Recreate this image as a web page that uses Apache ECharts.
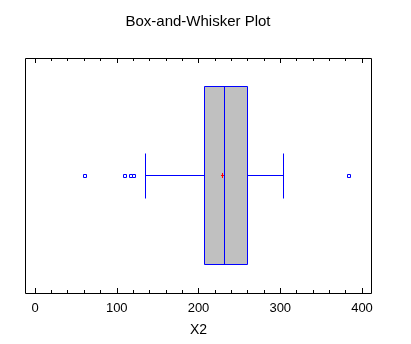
<!DOCTYPE html>
<html>
<head>
<meta charset="utf-8">
<script src="https://cdn.jsdelivr.net/npm/echarts@6/dist/echarts.min.js"></script>
<style>
  html, body { margin: 0; padding: 0; background: #ffffff; }
  #chart { width: 411px; height: 344px; }
</style>
</head>
<body>
<div id="chart"></div>
<script>
// Variable summarised by the plot
const categories = ['X2'];
// [lower whisker, Q1, median, Q3, upper whisker]
const boxStats = [[134.9, 207.3, 231.2, 259.4, 303.5]];
const means = [229.5];
// Points beyond the whiskers
const outliers = [60.8, 109.8, 117.2, 120.9, 384.1];

const BLUE = '#0000ff';
const FONT = 'Liberation Sans, Arial, sans-serif';

const chart = echarts.init(document.getElementById('chart'), null, { renderer: 'canvas' });

// snap a coordinate to the centre of a pixel so 1px strokes stay sharp
const px = v => Math.floor(v) + 0.5;

function renderBox(params, api) {
  const cat = api.value(0);
  const lo = api.coord([api.value(1), cat]);
  const q1 = api.coord([api.value(2), cat]);
  const md = api.coord([api.value(3), cat]);
  const q3 = api.coord([api.value(4), cat]);
  const hi = api.coord([api.value(5), cat]);
  const band = api.size([0, 1])[1];
  const cy = px(lo[1]);
  const boxH = Math.round(band * 0.757);
  const capH = Math.round(band * 0.191);
  const line = (x1, y1, x2, y2) => ({
    type: 'line',
    shape: { x1, y1, x2, y2 },
    style: { stroke: BLUE, lineWidth: 1 }
  });
  const xl = px(lo[0]), x1 = px(q1[0]), xm = px(md[0]), x3 = px(q3[0]), xh = px(hi[0]);
  const top = Math.floor(cy - boxH / 2) + 0.5;
  const capTop = Math.floor(cy - capH / 2) + 0.5;
  return {
    type: 'group',
    children: [
      line(xl, cy, x1, cy),
      line(x3, cy, xh, cy),
      line(xl, capTop, xl, capTop + capH),
      line(xh, capTop, xh, capTop + capH),
      {
        type: 'rect',
        shape: { x: x1, y: top, width: x3 - x1, height: boxH },
        style: { fill: '#c0c0c0', stroke: BLUE, lineWidth: 1 }
      },
      line(xm, top, xm, top + boxH)
    ]
  };
}

function renderMean(params, api) {
  const p = api.coord([api.value(1), api.value(0)]);
  const cx = px(p[0]), cy = px(p[1]);
  const st = { stroke: '#ff0000', lineWidth: 1 };
  return {
    type: 'group',
    children: [
      { type: 'line', shape: { x1: cx - 1.5, y1: cy, x2: cx + 1.5, y2: cy }, style: st },
      { type: 'line', shape: { x1: cx, y1: cy - 2.5, x2: cx, y2: cy + 2.5 }, style: st }
    ]
  };
}

// small hollow square, 4px across, kept on whole pixels
function renderOutlier(params, api) {
  const p = api.coord([api.value(0), api.value(1)]);
  const x = Math.round(p[0] - 2) + 0.5;
  const y = Math.round(p[1] - 2) + 0.5;
  return {
    type: 'rect',
    shape: { x, y, width: 3, height: 3 },
    style: { fill: '#ffffff', stroke: BLUE, lineWidth: 1 }
  };
}

const axisCommon = {
  type: 'value',
  min: 0,
  max: 400,
  interval: 100,
  axisLine: { show: false },
  axisTick: { show: true, inside: true, length: 5, lineStyle: { color: '#000', width: 1 } },
  minorTick: { show: true, splitNumber: 5, length: 3, lineStyle: { color: '#000', width: 1 } },
  splitLine: { show: false },
  minorSplitLine: { show: false }
};

chart.setOption({
  animation: false,
  backgroundColor: '#ffffff',
  title: {
    text: 'Box-and-Whisker Plot',
    left: 193,
    top: 9,
    textAlign: 'center',
    textStyle: { fontFamily: FONT, fontSize: 15, fontWeight: 'normal', color: '#000' }
  },
  grid: { left: 35, right: 49, top: 58, bottom: 51 },
  graphic: [{
    type: 'rect',
    shape: { x: 25.5, y: 58.5, width: 346, height: 235 },
    style: { fill: 'none', stroke: '#000', lineWidth: 1 },
    z: 10
  }],
  xAxis: [
    Object.assign({}, axisCommon, {
      position: 'bottom',
      name: categories[0],
      nameLocation: 'middle',
      nameGap: 30,
      nameTextStyle: { fontFamily: FONT, fontSize: 14, color: '#000' },
      axisLabel: { show: true, margin: 9, color: '#000', fontFamily: FONT, fontSize: 13 }
    }),
    Object.assign({}, axisCommon, {
      position: 'top',
      axisLabel: { show: false }
    })
  ],
  yAxis: {
    type: 'category',
    data: categories,
    axisLine: { show: false },
    axisTick: { show: false },
    axisLabel: { show: false },
    splitLine: { show: false }
  },
  series: [
    {
      type: 'custom',
      renderItem: renderBox,
      encode: { x: [1, 2, 3, 4, 5], y: 0 },
      data: boxStats.map((s, i) => [i].concat(s))
    },
    {
      type: 'custom',
      renderItem: renderMean,
      encode: { x: 1, y: 0 },
      data: means.map((m, i) => [i, m]),
      z: 5
    },
    {
      type: 'custom',
      renderItem: renderOutlier,
      encode: { x: 0, y: 1 },
      data: outliers.map(v => [v, 0]),
      z: 4
    }
  ]
});
</script>
</body>
</html>
